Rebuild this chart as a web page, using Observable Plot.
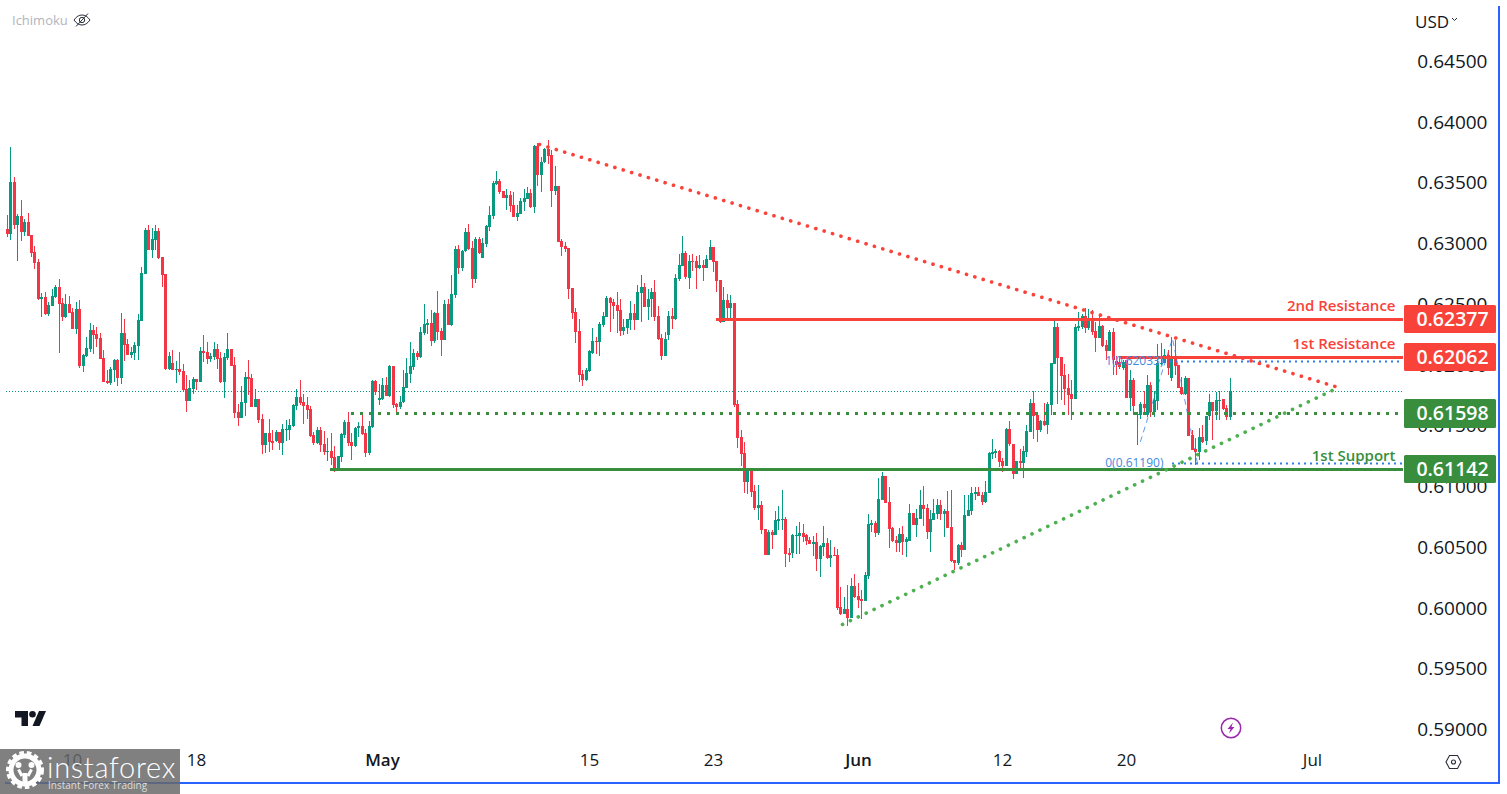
<!DOCTYPE html>
<html><head><meta charset="utf-8">
<script src="https://cdn.jsdelivr.net/npm/d3@7"></script>
<script src="https://cdn.jsdelivr.net/npm/@observablehq/plot@0.6"></script>
<style>
html,body{margin:0;padding:0;background:#fff;overflow:hidden}
#wrap{position:relative;width:1507px;height:794px;font-family:"Open Sans",sans-serif}
#chart svg{display:block}
.abs{position:absolute}
</style></head><body>
<div id="wrap"><div id="chart"></div>
<div class="abs" style="left:12px;top:12px;font-size:13px;line-height:16px;color:#b2b5be">Ichimoku</div>
<svg class="abs" style="left:73px;top:12px" width="18" height="16" viewBox="0 0 18 16" fill="none" stroke="#2a2e39" stroke-width="1"><path d="M1 8c2.5-3.5 5-5 8-5s5.500 1.500 8 5c-2.500 3.500-5 5-8 5s-5.500-1.500-8-5z"/><circle cx="9" cy="8" r="2.700"/><path d="M3 14.500L15 1.500"/></svg>
<div class="abs" style="left:1415px;top:11px;font-size:17px;line-height:22px;color:#131722">USD</div>
<svg class="abs" style="left:1451px;top:17px" width="7" height="5" fill="none" stroke="#2a2e39" stroke-width="1"><path d="M1 1l2.500 2.500L6 1"/></svg>
<svg class="abs" style="left:15px;top:711px" width="31" height="16" viewBox="0 0 31 16" fill="#131722"><path d="M0 0H13V15H6.500V6.500H0Z"/><circle cx="17.500" cy="3.300" r="3.300"/><path d="M24 0H31L24.500 15H17.500Z"/></svg>
<svg class="abs" style="left:1220px;top:717px" width="22" height="22" viewBox="0 0 22 22" fill="none"><circle cx="11" cy="11" r="9.700" stroke="#9c27b0" stroke-width="1.500"/><path d="M13 5.500L7.500 12H10.500L9 16.500L14.500 10H11.500Z" fill="#9c27b0"/></svg>
<svg class="abs" style="left:1445px;top:754px" width="17" height="16" viewBox="0 0 17 16" fill="none" stroke="#2a2e39" stroke-width="1.100"><path d="M4.500 1.500H12.500L16 8L12.500 14.500H4.500L1 8Z"/><circle cx="8.500" cy="8" r="2"/></svg>
<div class="abs" style="left:1498px;top:6px;width:2px;height:778px;background:#2962ff"></div>
<div class="abs" style="left:5px;top:782px;width:1495px;height:2px;background:#2962ff"></div>
<div class="abs" style="left:0;top:749px;width:180px;height:45px;background:rgba(104,104,104,.84);overflow:hidden">
<svg class="abs" style="left:6px;top:2px" width="38" height="38" viewBox="0 0 38 38" fill="none"><circle cx="19" cy="19" r="14" stroke="#fff" stroke-width="5"/><circle cx="19" cy="19" r="17" stroke="#fff" stroke-width="4" stroke-dasharray="4.500 2.900"/><circle cx="12.500" cy="14" r="3" fill="#fff"/><circle cx="25.500" cy="14" r="3" fill="#fff"/><path d="M12.500 18.500L16 25M25.500 18.500L22 25" stroke="#fff" stroke-width="3"/><path d="M19 22V35" stroke="#fff" stroke-width="5"/></svg>
<div class="abs" style="left:47px;top:0;font-family:Lato,sans-serif;font-weight:300;font-size:29px;line-height:36px;letter-spacing:.7px;color:#fff;white-space:nowrap">instaforex</div>
<div class="abs" style="left:48px;top:29px;font-size:10px;line-height:14px;color:#dcdcdc;white-space:nowrap">Instant Forex Trading</div>
</div>
</div>
<script>
// Quotes in points (1 point = 0.00001 USD), one entry per 4-hour candle.
const sides =
 "rgrgrgrrrr"+"grgggrrgrr"+"grgggrrrrr"+"ggrgrrgggg"+"grggrrrgrg"+"rrrggrgrrg"+
 "grrggrrrgg"+"rrgrrgrrgr"+"gggggrrrrr"+"grrgrrgggr"+"rggrrggrgg"+"rgrrgggggr"+
 "gggrgrrgrg"+"grggrrgrgg"+"gggrrgrrgg"+"ggrgrggrrg"+"rrrrrrrrgg"+"grgggrrrrg"+
 "ggrggrggrr"+"rggrgggrgr"+"rgrggrrrgr"+"grrrrgrrgr"+"rgrgggrrgg"+"grrrgrggrg"+
 "rrrgrgrrrg"+"ggrggrrrrg"+"rggrggrrgg"+"grgrrrgrgg"+"ggrrggggrr"+"grrgrgggrr"+
 "grgggrrrrr"+"gggrgrrgrr"+"grrrgrgrgg"+"rgrggggrgr"+"rrgrrrgrgg"+"rggrrg";
const highs = [
63232,63789,63542,63241,63356,63199,63249,63068,62977,62870,
62587,62598,62516,62623,62656,62705,62549,62582,62565,62467,
62516,62533,62088,62228,62343,62327,62310,62261,62121,61956,
61981,62047,62047,62426,62376,62212,62146,62187,62417,62804,
63125,63150,63125,63150,63125,62887,62747,62104,62121,62030,
62104,62006,61915,61874,61899,61882,62146,62244,62187,62096,
62187,62170,62104,62096,62261,62129,62063,61676,61825,61940,
62039,61923,61800,61718,61594,61438,61553,61462,61462,61446,
61512,61545,61553,61676,61800,61874,61759,61734,61660,61446,
61487,61487,61454,61397,61438,61331,61248,61438,61545,61611,
61438,61487,61528,61602,61471,61536,61874,61874,61841,61890,
61896,61997,61992,61682,61742,61956,62055,62187,62129,62113,
62310,62500,62376,62450,62434,62607,62302,62533,62541,62738,
62977,62985,62944,63125,63158,63018,63051,63051,63043,63150,
63306,63512,63594,63529,63430,63446,63430,63422,63315,63372,
63446,63460,63446,63809,63822,63712,63784,63850,63767,63636,
63471,63035,63010,62961,62631,62467,62376,61956,61973,62121,
62302,62228,62351,62434,62565,62557,62541,62598,62541,62376,
62376,62524,62500,62656,62738,62673,62623,62631,62697,62483,
62253,62269,62442,62467,62747,62911,63059,62936,62903,62911,
62895,62903,62862,62903,63026,62969,62854,62697,62640,62582,
62574,62508,61709,61462,61360,61133,61133,61009,61009,60877,
60647,60639,60639,60795,60836,60968,60746,60490,60606,60672,
60704,60688,60606,60581,60589,60614,60515,60672,60573,60556,
60499,60482,60169,60087,60186,60244,60276,60202,60145,60293,
60770,60721,60713,61067,61116,61083,60993,60663,60589,60655,
60672,60581,60853,60779,60812,60968,61001,60853,60803,60894,
60894,60886,60812,60960,60968,60392,60523,60540,60927,60927,
60993,60993,60993,60951,61042,61281,61388,61305,61297,61231,
61478,61536,61347,61207,61305,61330,61503,61717,61783,61585,
61544,61684,61692,62013,62367,62343,62063,62005,61923,61873,
62334,62433,62417,62466,62458,62450,62351,62400,62326,62203,
62285,62302,62071,62071,62038,62038,61956,61890,61613,61695,
61783,61914,61860,61783,62170,62178,62128,62120,62227,62203,
61997,61901,61906,61890,61462,61393,61475,61503,61580,61758,
61692,61777,61783,61717,61667,61890];
const bodyTops = [
63117,63507,63507,63224,63224,63175,63175,63068,62928,62845,
62557,62557,62491,62565,62640,62640,62508,62500,62500,62434,
62458,62458,62080,62137,62286,62286,62253,62220,62055,61866,
61965,62039,62039,62261,62261,62170,62104,62162,62368,62755,
63109,63109,63035,63101,63101,62887,62747,62072,62014,61965,
61965,61948,61800,61808,61882,61882,62113,62113,62104,62072,
62129,62129,62055,62063,62129,62129,61997,61611,61693,61899,
61899,61890,61718,61718,61553,61438,61438,61372,61446,61446,
61471,61471,61504,61668,61734,61734,61693,61668,61635,61421,
61462,61462,61347,61290,61290,61240,61248,61429,61528,61528,
61364,61479,61495,61495,61438,61495,61866,61866,61726,61833,
61833,61989,61989,61674,61693,61816,61932,61989,62096,62096,
62269,62335,62343,62343,62426,62426,62277,62500,62500,62582,
62952,62952,62936,63092,63092,62961,63035,63035,63002,63142,
63232,63496,63512,63512,63430,63397,63397,63315,63249,63348,
63372,63413,63413,63800,63800,63669,63776,63776,63726,63471,
63471,63018,62977,62961,62631,62434,62277,61923,61956,62113,
62195,62195,62335,62401,62549,62549,62516,62491,62450,62310,
62376,62426,62426,62598,62640,62640,62541,62598,62598,62401,
62220,62212,62401,62401,62714,62821,62919,62919,62854,62854,
62854,62821,62821,62870,62969,62969,62854,62697,62533,62533,
62508,62508,61676,61404,61273,61124,61124,60960,60844,60844,
60647,60622,60622,60721,60729,60729,60729,60449,60597,60597,
60614,60614,60597,60556,60540,60540,60507,60532,60532,60433,
60433,60433,60005,59988,59988,60178,60178,60095,60071,60268,
60688,60696,60696,60894,61083,61083,60869,60655,60556,60606,
60606,60565,60779,60779,60737,60844,60844,60820,60729,60779,
60844,60844,60795,60795,60663,60392,60515,60515,60762,60803,
60943,60951,60951,60927,60951,61273,61281,61289,61289,61207,
61470,61470,61347,61207,61207,61289,61454,61684,61684,61585,
61536,61536,61676,62013,62310,62310,62063,61915,61808,61758,
62310,62318,62400,62400,62384,62367,62277,62318,62318,62162,
62269,62269,62030,62019,62019,62038,61873,61873,61593,61676,
61676,61832,61832,61709,62013,62013,62079,62079,62063,62052,
61997,61816,61890,61890,61420,61305,61404,61404,61577,61692,
61692,61709,61709,61717,61643,61783];
const bodyBottoms = [
63076,63076,63150,63150,63092,63092,63059,62919,62837,62541,
62541,62417,62417,62483,62557,62500,62393,62393,62426,62294,
62294,61989,61989,62072,62129,62244,62212,62047,61858,61849,
61849,61956,61890,61890,62162,62080,62080,62096,62154,62360,
62747,62944,62944,63026,62878,62738,61965,61965,61956,61956,
61940,61792,61701,61701,61800,61858,61858,62096,62047,62047,
62063,62047,61858,61858,62055,61989,61602,61561,61561,61685,
61882,61652,61652,61545,61339,61339,61364,61355,61372,61355,
61355,61462,61462,61495,61660,61685,61660,61627,61413,61355,
61355,61339,61281,61281,61232,61133,61133,61240,61421,61355,
61331,61331,61479,61429,61273,61273,61487,61775,61709,61720,
61742,61742,61668,61652,61652,61693,61808,61923,61981,62063,
62063,62261,62327,62195,62195,62269,62203,62203,62327,62327,
62574,62796,62796,62936,62952,62705,62705,62919,62878,62994,
63134,63224,63485,63422,63372,63372,63306,63216,63216,63241,
63339,63364,63298,63298,63562,63562,63669,63718,63430,63430,
63010,62969,62952,62623,62426,62269,61915,61874,61874,61948,
62096,62187,62187,62327,62393,62508,62483,62442,62277,62277,
62302,62368,62368,62368,62590,62475,62475,62541,62393,62212,
62072,62072,62244,62376,62376,62705,62812,62722,62714,62845,
62796,62796,62796,62796,62862,62845,62689,62351,62351,62467,
62467,61668,61396,61264,61034,61034,60951,60820,60820,60639,
60433,60433,60597,60597,60713,60721,60441,60433,60449,60589,
60589,60581,60548,60523,60523,60400,60400,60499,60408,60408,
60425,59997,59947,59947,59914,59914,60087,60062,60054,60054,
60260,60680,60614,60614,60886,60861,60647,60548,60532,60532,
60540,60540,60548,60680,60680,60729,60812,60622,60622,60721,
60770,60770,60770,60655,60383,60367,60367,60474,60474,60754,
60795,60935,60919,60869,60869,60943,61264,61273,61198,61165,
61165,61347,61100,61100,61190,61190,61281,61445,61577,61462,
61462,61503,61503,61668,62005,62055,61906,61799,61750,61717,
61717,62302,62310,62302,62302,62269,62219,62219,62153,62112,
62112,62038,61997,61983,61972,61725,61725,61659,61585,61585,
61643,61585,61610,61610,61700,62005,62013,61972,61890,61988,
61805,61758,61758,61412,61297,61281,61281,61363,61371,61577,
61618,61618,61700,61635,61569,61569];
const lows = [
63048,63026,63117,62856,63018,63059,63059,62887,62788,62533,
62393,62409,62401,62483,62549,62096,62360,62384,62426,62294,
62253,61973,61940,62063,62104,62088,62146,62047,61858,61841,
61833,61858,61825,61841,62030,62080,62055,62039,62039,62360,
62747,62944,62878,62944,62870,62640,61956,61956,61956,61849,
61915,61783,61611,61701,61759,61792,61858,62022,62006,62022,
62039,61965,61849,61726,62039,61989,61561,61495,61561,61578,
61751,61652,61652,61520,61265,61273,61281,61298,61364,61298,
61257,61372,61380,61487,61627,61668,61512,61553,61405,61339,
61347,61281,61257,61207,61174,61117,61133,61199,61397,61331,
61215,61322,61405,61421,61240,61257,61479,61751,61668,61709,
61742,61737,61644,61611,61635,61685,61808,61849,61956,62039,
62055,62244,62253,62154,62179,62203,62072,62203,62327,62319,
62549,62747,62771,62928,62944,62631,62673,62911,62878,62969,
63101,63199,63479,63405,63372,63273,63257,63216,63183,63241,
63265,63364,63290,63249,63471,63422,63660,63652,63298,63397,
63010,62895,62928,62541,62376,62179,61858,61825,61866,61940,
62088,62088,62072,62310,62393,62269,62376,62261,62236,62244,
62253,62286,62286,62368,62351,62475,62368,62393,62360,62203,
62039,62072,62203,62294,62368,62689,62812,62705,62623,62771,
62623,62788,62689,62796,62862,62763,62598,62343,62351,62360,
62368,61652,61314,61165,60943,60935,60910,60803,60721,60606,
60433,60433,60482,60597,60639,60639,60334,60375,60408,60441,
60441,60540,60515,60523,60425,60301,60252,60425,60400,60334,
60425,59980,59939,59947,59848,59914,60079,59997,59906,60054,
60235,60622,60581,60597,60886,60861,60490,60540,60458,60458,
60433,60416,60548,60680,60581,60729,60672,60565,60458,60721,
60729,60721,60581,60655,60375,60309,60351,60416,60474,60754,
60762,60886,60919,60844,60861,60943,61223,61231,61157,61116,
61165,61330,61058,61100,61133,61067,61240,61445,61388,61363,
61445,61495,61429,61585,62005,61676,61709,61668,61585,61544,
61717,62277,62293,62260,62285,62244,62104,62219,62148,62038,
62112,61915,61915,61964,61956,61725,61618,61585,61338,61552,
61585,61569,61569,61569,61626,61997,62013,61914,61865,61914,
61805,61750,61750,61412,61297,61174,61215,61352,61338,61541,
61379,61544,61544,61626,61544,61544];
const priceTicks = [0.645,0.64,0.635,0.63,0.625,0.62,0.615,0.61,0.605,0.6,0.595,0.59];
const dayTickIndex = [19,55,169,205,289,325,379];
const dayTickLabels = ["10","18","15","23","12","20","Jul"];
const monthTickIndex = [109,247];
const monthTickLabels = ["May","Jun"];
const levelValues = [0.62377,0.62062,0.61598,0.61142];
const levelNames = ["0.62377","0.62062","0.61598","0.61142"];
const levelFills = ["#f9423a","#f9423a","#388e3c","#388e3c"];
const levelStarts = [205.8,323,99.9,93.8];
const lastPrice = 0.61781;
const fibValues = [0.62033,0.6119];
const fibLabels = ["1(0.62033)","0(0.61190)"];
const fibStarts = [335.6,338.3];
const fibLabelEnd = 335.6;
const fibPathX = [329,338.3,345.5];
const fibPathY = [0.61371,0.62219,0.6119];
const resistanceTrendX = [154.4,386.4];
const resistanceTrendY = [0.63817,0.61816];
const supportTrendX = [242.4,386.4];
const supportTrendY = [0.59865,0.61816];
const zoneNames = ["2nd Resistance","1st Resistance","1st Support"];
const zoneY = [0.62485,0.62173,0.6125];
const zoneFills = ["#f9423a","#f9423a","#388e3c"];

const idx = d3.range(highs.length);
const P = v => v / 1e5;
const END = 405.3, LABX = 403, BOX1 = 405.6, BOX2 = 432.3, BOXC = 419.6, HALF = 0.00118;
const font = "'Open Sans',sans-serif";
const chart = Plot.plot({
  width:1507,height:794,marginTop:0,marginBottom:41,marginLeft:0,marginRight:0,
  style:{background:"#fff",fontFamily:font,overflow:"visible"},
  x:{domain:[-2.003,435.5],round:true,axis:null},
  y:{domain:[0.588027,0.650022],round:true,axis:null},
  color:{domain:["g","r"],range:["#089981","#f23645"]},
  marks:[
    Plot.axisY(priceTicks,{anchor:"right",textAnchor:"end",tickSize:0,tickPadding:0,dx:-20,
      tickFormat:d=>d.toFixed(5),fontSize:19,fill:"#131722",label:null}),
    Plot.axisX(dayTickIndex,{anchor:"bottom",tickSize:0,tickPadding:0,lineAnchor:"top",
      tickFormat:i=>dayTickLabels[dayTickIndex.indexOf(i)],fontSize:17,fill:"#131722",label:null}),
    Plot.axisX(monthTickIndex,{anchor:"bottom",tickSize:0,tickPadding:0,lineAnchor:"top",
      tickFormat:i=>monthTickLabels[monthTickIndex.indexOf(i)],fontSize:17,fontWeight:600,fill:"#131722",label:null}),
    Plot.ruleY([lastPrice],{x1:-0.3,x2:END,stroke:"#089981",strokeWidth:1,strokeDasharray:"1 2"}),
    Plot.line([0,1,2],{x:i=>fibPathX[i],y:i=>fibPathY[i],stroke:"#5c9ded",strokeWidth:1,strokeDasharray:"5 5"}),
    Plot.ruleX(idx,{x:i=>i,y1:i=>P(lows[i]),y2:i=>P(highs[i]),stroke:i=>sides[i],strokeWidth:1}),
    Plot.ruleX(idx,{x:i=>i,y1:i=>P(bodyBottoms[i]),y2:i=>P(bodyTops[i]),stroke:i=>sides[i],strokeWidth:3}),
    Plot.ruleY([0,1],{y:i=>fibValues[i],x1:i=>fibStarts[i],x2:END,stroke:"#2e7fe6",strokeWidth:2,strokeDasharray:"2 4"}),
    Plot.ruleY([0,1,2,3].filter(i=>i!==2),{y:i=>levelValues[i],x1:i=>levelStarts[i],x2:END,stroke:i=>levelFills[i],strokeWidth:3}),
    Plot.ruleY([2],{y:i=>levelValues[i],x1:i=>levelStarts[i],x2:END,stroke:i=>levelFills[i],strokeWidth:3,strokeDasharray:"3 6"}),
    Plot.text([0,1],{x:fibLabelEnd,y:i=>fibValues[i],text:i=>fibLabels[i],textAnchor:"end",fill:"#3f8ae0",fontSize:12}),
    Plot.line([0,1],{x:i=>resistanceTrendX[i],y:i=>resistanceTrendY[i],stroke:"#f9423a",strokeWidth:3.6,strokeLinecap:"round",strokeDasharray:"0.1 8.65"}),
    Plot.line([0,1],{x:i=>supportTrendX[i],y:i=>supportTrendY[i],stroke:"#4caf50",strokeWidth:3.6,strokeLinecap:"round",strokeDasharray:"0.1 8.65"}),
    Plot.rect([0,1,2,3],{x1:BOX1,x2:BOX2,y1:i=>levelValues[i]-HALF,y2:i=>levelValues[i]+HALF,fill:i=>levelFills[i],rx:1.5}),
    Plot.text([0,1,2,3],{x:BOXC,y:i=>levelValues[i],text:i=>levelNames[i],fill:"#fff",fontSize:19.5,fontWeight:600}),
    Plot.text([0,1,2],{x:LABX,y:i=>zoneY[i],text:i=>zoneNames[i],textAnchor:"end",fill:i=>zoneFills[i],fontSize:15,fontWeight:600})
  ]
});
document.getElementById("chart").appendChild(chart);
</script>
</body></html>
